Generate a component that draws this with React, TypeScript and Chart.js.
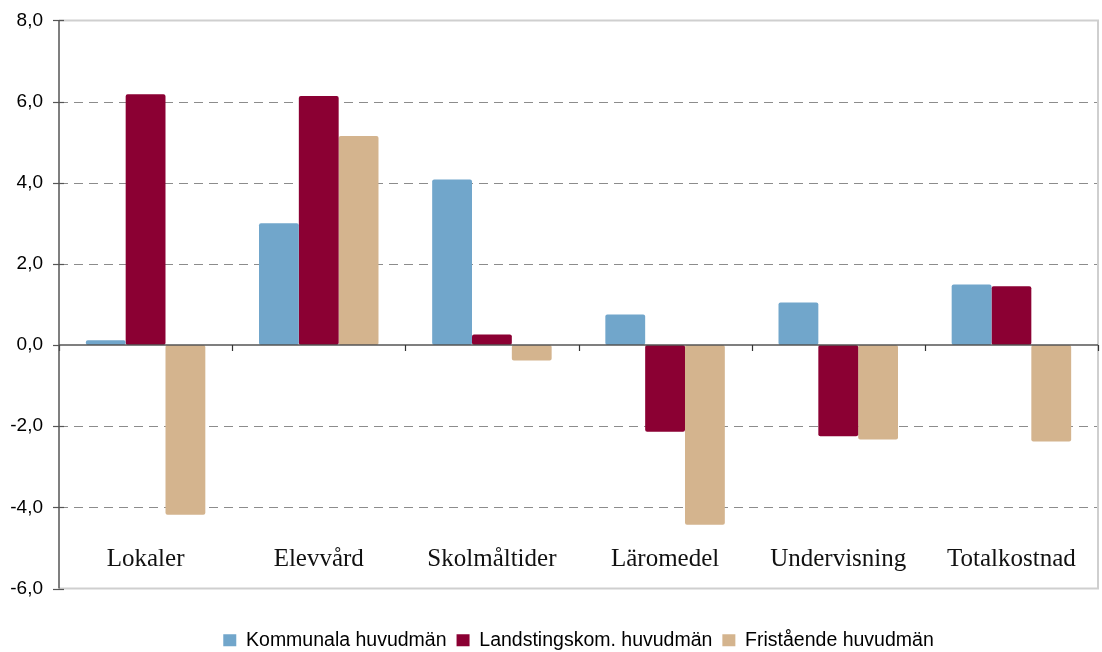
import React, { useEffect, useRef } from "react";
import { Chart, registerables } from "chart.js";

Chart.register(...registerables);

const categories = ["Lokaler", "Elevvård", "Skolmåltider", "Läromedel", "Undervisning", "Totalkostnad"];
const kommunala = [0.12, 3.0, 4.08, 0.75, 1.05, 1.49];
const landstings = [6.18, 6.14, 0.26, -2.14, -2.25, 1.45];
const fristaende = [-4.18, 5.15, -0.38, -4.43, -2.33, -2.38];
const seriesNames = ["Kommunala huvudmän", "Landstingskom. huvudmän", "Fristående huvudmän"];
const seriesColors = ["#71A6CB", "#8B0033", "#D4B48E"];
const yTicks = [-6, -4, -2, 0, 2, 4, 6, 8];

const decorPlugin = {
  id: "decor",
  beforeDatasetsDraw(chart: any) {
    const { ctx, chartArea, scales } = chart;
    const y = scales.y;
    ctx.save();
    ctx.strokeStyle = "#8c8c8c";
    ctx.lineWidth = 1;
    ctx.setLineDash([9, 6]);
    yTicks.forEach((v) => {
      if (v === 0 || v === 8 || v === -6) return;
      const py = Math.round(y.getPixelForValue(v)) + 0.5;
      ctx.beginPath();
      ctx.moveTo(chartArea.left, py);
      ctx.lineTo(chartArea.right, py);
      ctx.stroke();
    });
    ctx.setLineDash([]);
    ctx.strokeStyle = "#cfcfcf";
    ctx.lineWidth = 2;
    const top = y.getPixelForValue(8);
    const bot = y.getPixelForValue(-6);
    ctx.beginPath();
    ctx.moveTo(chartArea.left, top);
    ctx.lineTo(chartArea.right, top);
    ctx.lineTo(chartArea.right, bot);
    ctx.lineTo(chartArea.left, bot);
    ctx.stroke();
    ctx.restore();
  },
  afterDatasetsDraw(chart: any) {
    const { ctx, chartArea, scales } = chart;
    const y = scales.y;
    const x = scales.x;
    ctx.save();
    const zero = y.getPixelForValue(0);
    ctx.strokeStyle = "#555555";
    ctx.lineWidth = 1.5;
    ctx.beginPath();
    ctx.moveTo(chartArea.left, zero);
    ctx.lineTo(chartArea.right, zero);
    ctx.stroke();
    ctx.lineWidth = 1.2;
    ctx.strokeStyle = "#333333";
    const n = categories.length;
    const step = (chartArea.right - chartArea.left) / n;
    for (let i = 0; i <= n; i++) {
      const px = Math.round(chartArea.left + i * step) + 0.5;
      ctx.beginPath();
      ctx.moveTo(px, zero);
      ctx.lineTo(px, zero + 6);
      ctx.stroke();
    }
    ctx.strokeStyle = "#555555";
    ctx.lineWidth = 1.5;
    ctx.beginPath();
    ctx.moveTo(chartArea.left, y.getPixelForValue(8));
    ctx.lineTo(chartArea.left, y.getPixelForValue(-6));
    ctx.stroke();
    ctx.lineWidth = 1.2;
    yTicks.forEach((v) => {
      const py = Math.round(y.getPixelForValue(v)) + 0.5;
      ctx.beginPath();
      ctx.moveTo(chartArea.left - 6, py);
      ctx.lineTo(chartArea.left + (v === 0 ? 0 : 5), py);
      ctx.stroke();
    });
    ctx.fillStyle = "#111111";
    ctx.font = "25px 'Liberation Serif', 'Times New Roman', serif";
    ctx.textAlign = "center";
    ctx.textBaseline = "alphabetic";
    const ly = y.getPixelForValue(-5.2) + 10;
    categories.forEach((c, i) => {
      ctx.fillText(c, x.getPixelForValue(i), ly);
    });
    ctx.restore();
  },
};

export default function App() {
  const ref = useRef<HTMLCanvasElement>(null);
  useEffect(() => {
    if (!ref.current) return;
    const data = [kommunala, landstings, fristaende];
    const chart = new Chart(ref.current, {
      type: "bar",
      data: {
        labels: categories,
        datasets: seriesNames.map((name, i) => ({
          label: name,
          data: data[i],
          backgroundColor: seriesColors[i],
          borderWidth: 0,
          borderRadius: 2,
          borderSkipped: false,
          categoryPercentage: 0.69,
          barPercentage: 1.0,
        })),
      },
      options: {
        animation: false,
        responsive: true,
        maintainAspectRatio: false,
        layout: { padding: { top: 8, right: 4, left: 0, bottom: 0 } },
        plugins: {
          legend: {
            position: "bottom",
            fullSize: false,
            labels: {
              boxWidth: 13,
              boxHeight: 12,
              padding: 10,
              color: "#000",
              font: { family: "'Liberation Sans', Arial, sans-serif", size: 19.5 },
            },
          },
          tooltip: { enabled: false },
        },
        scales: {
          x: {
            display: true,
            ticks: { display: false },
            grid: { display: false, drawTicks: false },
            border: { display: false },
            afterFit: (s: any) => {
              s.height = 32;
            },
          },
          y: {
            min: -6,
            max: 8,
            afterFit: (s: any) => {
              s.width = 59;
            },
            afterBuildTicks: (s: any) => {
              s.ticks = yTicks.map((v) => ({ value: v }));
            },
            grid: { display: false, drawTicks: true, tickLength: 7 },
            border: { display: false },
            ticks: {
              padding: 9,
              color: "#000",
              font: { family: "'Liberation Sans', Arial, sans-serif", size: 19 },
              callback: (v: any) => Number(v).toFixed(1).replace(".", ","),
            },
          },
        },
      },
      plugins: [decorPlugin],
    });
    return () => chart.destroy();
  }, []);
  return (
    <div style={{ position: "fixed", left: 0, top: 0, width: 1102, height: 660, background: "#fff" }}>
      <canvas ref={ref} />
    </div>
  );
}
